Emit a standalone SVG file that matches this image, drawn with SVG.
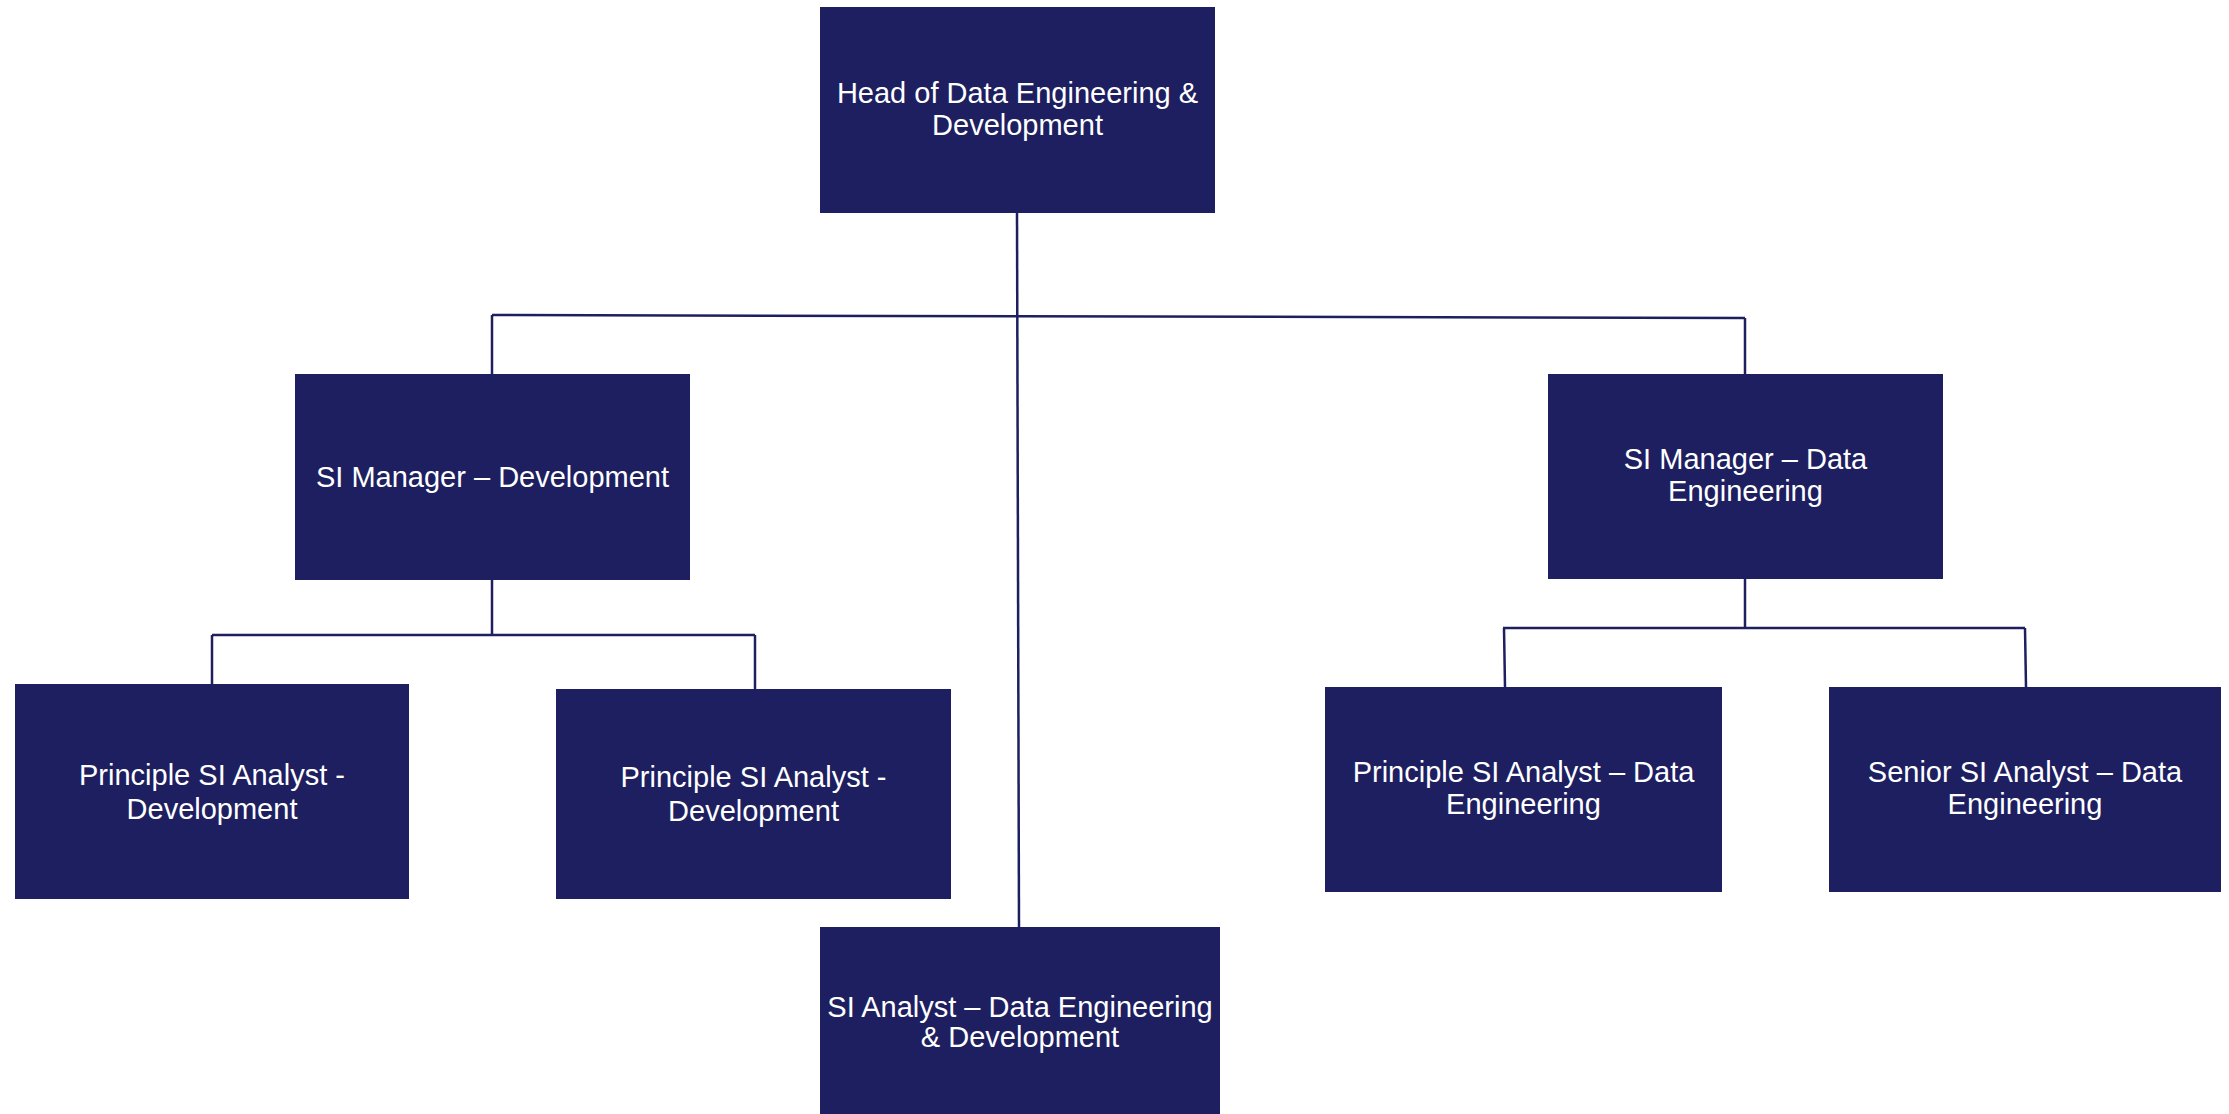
<svg xmlns="http://www.w3.org/2000/svg" width="2229" height="1114" viewBox="0 0 2229 1114">
<style>
.box{fill:#1e1f60}
.t{fill:#ffffff;font-family:"Liberation Sans",Arial,sans-serif;font-size:29px;text-anchor:middle}
.c{stroke:#1e1f60;stroke-width:2.5;fill:none}
</style>
<rect width="2229" height="1114" fill="#ffffff"/>
<g id="connectors">
<line class="c" x1="1017" y1="213" x2="1019" y2="927"/>
<line class="c" x1="492" y1="315" x2="1745" y2="318"/>
<line class="c" x1="492" y1="315" x2="492" y2="374"/>
<line class="c" x1="1745" y1="318" x2="1745" y2="374"/>
<line class="c" x1="492" y1="580" x2="492" y2="635"/>
<line class="c" x1="212" y1="635" x2="755" y2="635"/>
<line class="c" x1="212" y1="635" x2="212" y2="684"/>
<line class="c" x1="755" y1="635" x2="755" y2="689"/>
<line class="c" x1="1745" y1="579" x2="1745" y2="628"/>
<line class="c" x1="1503" y1="628" x2="2025" y2="628"/>
<line class="c" x1="1504" y1="628" x2="1505" y2="687"/>
<line class="c" x1="2025" y1="628" x2="2026" y2="687"/>
</g>
<g id="head">
<rect class="box" x="820" y="7" width="395" height="206"/>
<text class="t" x="1017.5" y="103">Head of Data Engineering &amp;</text>
<text class="t" x="1017.5" y="135">Development</text>
</g>
<g id="mgr-dev">
<rect class="box" x="295" y="374" width="395" height="206"/>
<text class="t" x="492.5" y="487">SI Manager – Development</text>
</g>
<g id="mgr-de">
<rect class="box" x="1548" y="374" width="395" height="205"/>
<text class="t" x="1745.5" y="469">SI Manager – Data</text>
<text class="t" x="1745.5" y="501">Engineering</text>
</g>
<g id="principle-dev-1">
<rect class="box" x="15" y="684" width="394" height="215"/>
<text class="t" x="212" y="785">Principle SI Analyst -</text>
<text class="t" x="212" y="819">Development</text>
</g>
<g id="principle-dev-2">
<rect class="box" x="556" y="689" width="395" height="210"/>
<text class="t" x="753.5" y="787">Principle SI Analyst -</text>
<text class="t" x="753.5" y="821">Development</text>
</g>
<g id="principle-de">
<rect class="box" x="1325" y="687" width="397" height="205"/>
<text class="t" x="1523.5" y="782">Principle SI Analyst – Data</text>
<text class="t" x="1523.5" y="814">Engineering</text>
</g>
<g id="senior-de">
<rect class="box" x="1829" y="687" width="392" height="205"/>
<text class="t" x="2025" y="782">Senior SI Analyst – Data</text>
<text class="t" x="2025" y="814">Engineering</text>
</g>
<g id="analyst">
<rect class="box" x="820" y="927" width="400" height="190"/>
<text class="t" x="1020" y="1017">SI Analyst – Data Engineering</text>
<text class="t" x="1020" y="1047">&amp; Development</text>
</g>
</svg>
